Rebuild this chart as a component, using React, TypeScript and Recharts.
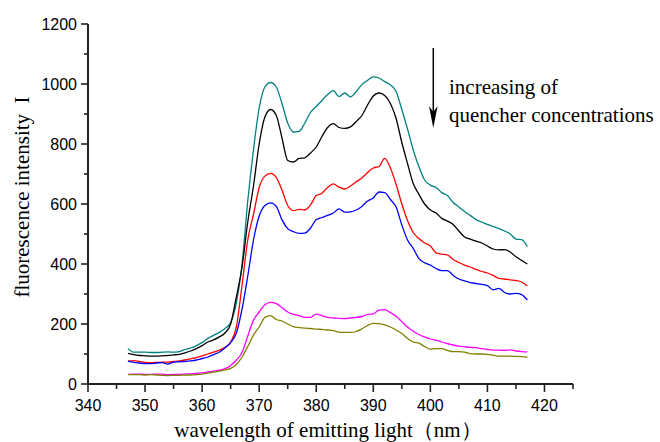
import { LineChart, Line, XAxis, YAxis } from "recharts";

// emission wavelength, nm
const wavelengths = [
  347, 348, 349, 350, 351, 352, 353, 354, 355, 356,
  357, 358, 359, 360, 361, 362, 363, 364, 365, 366,
  367, 368, 369, 370, 371, 372, 373, 374, 375, 376,
  377, 378, 379, 380, 381, 382, 383, 384, 385, 386,
  387, 388, 389, 390, 391, 392, 393, 394, 395, 396,
  397, 398, 399, 400, 401, 402, 403, 404, 405, 406,
  407, 408, 409, 410, 411, 412, 413, 414, 415, 416,
  417,
];

// fluorescence intensity per quencher level, lowest concentration first
const teal = [
  118, 106, 106, 106, 105, 105, 106, 107, 106, 108,
  115, 120, 128, 138, 152, 162, 172, 185, 205, 270,
  400, 610, 780, 920, 990, 1005, 990, 935, 870, 840,
  842, 870, 905, 925, 945, 965, 978, 958, 970, 957,
  975, 998, 1012, 1024, 1020, 1008, 997, 975, 915, 850,
  780, 724, 680, 663, 655, 638, 628, 605, 590, 575,
  562, 548, 540, 532, 525, 518, 510, 500, 483, 481,
  458,
];
const black = [
  102, 98, 95, 94, 93, 93, 94, 95, 97, 99,
  104, 110, 118, 128, 140, 147, 157, 170, 200, 290,
  390, 540, 660, 800, 890, 915, 895, 820, 745, 740,
  752, 754, 770, 790, 825, 855, 868, 855, 852, 857,
  875, 895, 930, 960, 970, 962, 935, 885, 805, 735,
  668, 632, 600, 580, 570, 552, 543, 532, 510, 490,
  483, 476, 470, 460, 450, 447, 448, 440, 424, 412,
  400,
];
const red = [
  76, 78, 75, 72, 71, 72, 73, 73, 75, 77,
  80, 84, 88, 94, 100, 106, 113, 122, 140, 190,
  330, 480, 565, 655, 693, 702, 688, 647, 595, 578,
  582, 580, 597, 628, 636, 655, 667, 656, 650, 660,
  674, 687, 705, 720, 725, 752, 720, 665, 600, 545,
  505, 485, 470, 460, 437, 433, 430, 415, 405, 396,
  390, 382, 375, 370, 362, 352, 350, 347, 345, 340,
  327,
];
const blue = [
  76, 72, 70, 68, 68, 70, 71, 66, 73, 74,
  75, 77, 80, 85, 90, 98, 106, 120, 138, 170,
  250, 360, 480, 560, 595, 604, 592, 547, 518, 508,
  502, 503, 520, 548, 555, 562, 570, 584, 573, 574,
  580, 592, 610, 620, 640, 638, 615, 590, 530, 480,
  452, 418, 404, 396, 385, 378, 378, 362, 350, 344,
  338, 335, 332, 328, 314, 319, 305, 300, 302, 298,
  280,
];
const magenta = [
  32, 33, 33, 32, 32, 33, 33, 31, 32, 32,
  33, 34, 35, 37, 40, 43, 46, 51, 62, 80,
  105, 160, 213, 240, 264, 272, 268, 255, 240, 232,
  228, 222, 222, 233, 228, 222, 220, 219, 218, 220,
  222, 225, 232, 234, 246, 248, 238, 226, 208, 190,
  176, 165, 157, 150, 146, 140, 135, 130, 126, 124,
  122, 121, 118, 115, 113, 113, 112, 114, 110, 108,
  107,
];
const olive = [
  31, 31, 31, 30, 31, 30, 29, 28, 29, 29,
  30, 30, 31, 33, 36, 40, 43, 47, 52, 65,
  90, 125, 163, 190, 222, 228, 215, 210, 200, 191,
  188, 186, 185, 183, 182, 180, 178, 173, 172, 172,
  175, 184, 195, 202, 201, 197, 190, 180, 168, 152,
  140, 136, 125, 116, 118, 118, 112, 108, 108, 106,
  101, 100, 100, 99, 96, 93, 93, 93, 92, 91,
  90,
];

const xTicks = [340, 345, 350, 355, 360, 365, 370, 375, 380, 385, 390, 395, 400, 405, 410, 415, 420, 425];
const yTicks = [0, 100, 200, 300, 400, 500, 600, 700, 800, 900, 1000, 1100, 1200];

const series = [
  { key: "s1", color: "#008080", values: teal },
  { key: "s2", color: "#000000", values: black },
  { key: "s3", color: "#ff0000", values: red },
  { key: "s4", color: "#0000ff", values: blue },
  { key: "s5", color: "#ff00ff", values: magenta },
  { key: "s6", color: "#808000", values: olive },
];

const rows = wavelengths.map((w, i) => {
  const row: Record<string, number> = { w };
  series.forEach((s) => (row[s.key] = s.values[i]));
  return row;
});

const AXIS = "#222";
const SANS = "'Liberation Sans', Arial, sans-serif";
const SERIF = "'Liberation Serif', 'Times New Roman', serif";

function XTick({ x, y, payload }: any) {
  const v = payload.value as number;
  const major = v % 10 === 0 && v <= 420;
  return (
    <g>
      <line x1={x} x2={x} y1={y} y2={y + (major ? 8 : 5)} stroke={AXIS} strokeWidth={1.6} />
      {major && (
        <text x={x} y={y + 26.5} textAnchor="middle" fontFamily={SANS} fontSize={16} fill="#000">
          {v}
        </text>
      )}
    </g>
  );
}

function YTick({ x, y, payload }: any) {
  const v = payload.value as number;
  const major = v % 200 === 0;
  return (
    <g>
      <line x1={x - (major ? 7 : 4)} x2={x} y1={y} y2={y} stroke={AXIS} strokeWidth={1.6} />
      {major && (
        <text x={x - 11} y={y} dy="0.36em" textAnchor="end" fontFamily={SANS} fontSize={16} fill="#000">
          {v}
        </text>
      )}
    </g>
  );
}

export default function App() {
  return (
    <div style={{ position: "absolute", left: 0, top: 0, width: 660, height: 442, background: "#fff" }}>
      <LineChart width={660} height={442} data={rows} margin={{ top: 24, right: 87, bottom: 0, left: 0 }}>
        <XAxis
          dataKey="w"
          type="number"
          domain={[340, 425]}
          ticks={xTicks}
          interval={0}
          height={58}
          tickSize={0}
          tickMargin={0}
          tickLine={false}
          axisLine={{ stroke: AXIS, strokeWidth: 2 }}
          tick={<XTick />}
        />
        <YAxis
          type="number"
          domain={[0, 1200]}
          ticks={yTicks}
          interval={0}
          width={88}
          tickSize={0}
          tickMargin={0}
          tickLine={false}
          axisLine={{ stroke: AXIS, strokeWidth: 2 }}
          tick={<YTick />}
        />
        {series.map((s) => (
          <Line
            key={s.key}
            dataKey={s.key}
            type="monotone"
            stroke={s.color}
            strokeWidth={1.3}
            dot={false}
            isAnimationActive={false}
          />
        ))}
      </LineChart>
      <svg
        width={660}
        height={442}
        style={{ position: "absolute", left: 0, top: 0, pointerEvents: "none" }}
      >
        <text
          transform="translate(28.5,197) rotate(-90)"
          textAnchor="middle"
          fontFamily={SERIF}
          fontSize={21}
          fill="#000"
          style={{ whiteSpace: "pre" }}
        >
          {"fluorescence intensity  I"}
        </text>
        <text x={328} y={437} textAnchor="middle" fontFamily={SERIF} fontSize={21} fill="#000">
          wavelength of emitting light（nm）
        </text>
        <line x1={433.3} x2={433.3} y1={48} y2={118} stroke="#000" strokeWidth={1.5} />
        <path d="M433.3,128 L429,106 L433.3,112 L437.6,106 Z" fill="#000" />
        <text x={449} y={94} fontFamily={SERIF} fontSize={21} fill="#000">
          increasing of
        </text>
        <text x={449} y={122} fontFamily={SERIF} fontSize={21} fill="#000">
          quencher concentrations
        </text>
      </svg>
    </div>
  );
}
